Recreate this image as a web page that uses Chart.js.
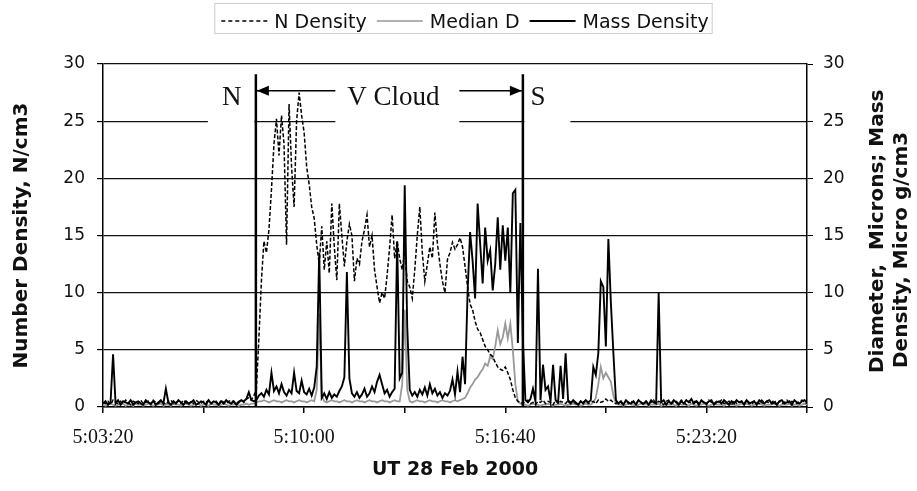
<!DOCTYPE html>
<html>
<head>
<meta charset="utf-8">
<title>Cloud pass, UT 28 Feb 2000</title>
<script src="https://cdn.jsdelivr.net/npm/chart.js@4.4.1/dist/chart.umd.min.js"></script>
<style>
  html, body { margin: 0; padding: 0; background: #fff; }
</style>
</head>
<body>
<canvas id="cloudChart" width="917" height="491"></canvas>
<script>
// one reading every 5 s, clock in seconds after 5:00:00 UT
const sampleStart = 200;
const sampleStep = 5;

const tickTimes = [200, 600, 1000, 1400];
const tickLabels = ["5:03:20", "5:10:00", "5:16:40", "5:23:20"];

// cloud edges (s after 5:00:00) and their labels
const cloudEdges = [504, 1035];
const edgeLabels = ["N", "S"];
const cloudLabel = "V Cloud";

// number density, N/cm3
const nDensity = [
  0.4,0.3,0.5,0.2,0.6,0.4,0.3,0.5,0.3,0.6,
  0.4,0.2,0.5,0.4,0.3,0.6,0.3,0.4,0.5,0.2,
  0.6,0.4,0.3,0.5,0.4,0.2,0.5,0.6,0.3,0.4,
  0.5,0.3,0.6,0.4,0.2,0.5,0.3,0.6,0.4,0.3,
  0.5,0.4,0.6,0.3,0.4,0.5,0.2,0.6,0.4,0.3,
  0.5,0.6,0.4,0.3,0.5,0.6,0.4,0.7,0.8,0.6,
  1.0,
  1.5,6,11,14.5,13.5,15.5,19,23,25.2,22,
  25.5,23,14.2,26.5,21,17.5,25,27.5,25.5,24,
  21,19.5,17.5,16.5,14.2,12.5,15.8,12,14.5,11.7,
  17.8,14,11.1,17.8,15,12.3,14.5,16,15,11,
  13,12.5,14.5,15.5,16.8,14,15,12,10.5,9.1,
  10,9.5,11.5,14,16.8,13,14.5,13,12,13.5,
  11,10.5,9.5,12,15,17.5,13.5,11,12.5,14,
  13,17,14.3,12.5,11,10,12.9,13.5,14.4,13.8,
  14.2,14.8,14,12.3,10.5,9,8.5,7.5,6.8,6.5,
  5.9,5.3,5,4.6,4.4,3.9,3.5,3.3,3.2,3.5,
  3,2.4,1.5,0.8,0.5,
  0.4,0.3,0.5,0.6,0.3,0.4,0.2,0.5,0.4,0.6,
  0.3,0.5,0.4,0.2,0.6,0.3,0.5,0.4,0.3,0.6,
  0.4,0.5,0.3,0.2,0.5,0.4,0.6,0.3,0.4,0.5,
  0.3,0.6,0.4,0.5,0.7,0.5,0.6,0.4,0.3,0.5,
  0.4,0.2,0.6,0.3,0.5,0.4,0.3,0.6,0.4,0.2,
  0.5,0.3,0.4,0.6,0.3,0.5,0.4,0.2,0.5,0.6,
  0.3,0.4,0.5,0.3,0.6,0.4,0.2,0.5,0.3,0.4,
  0.6,0.3,0.5,0.4,0.2,0.6,0.4,0.3,0.5,0.4,
  0.6,0.3,0.4,0.5,0.2,0.6,0.3,0.4,0.5,0.3,
  0.6,0.4,0.2,0.5,0.4,0.3,0.6,0.4,0.5,0.3,
  0.4,0.6,0.2,0.5,0.3,0.4,0.6,0.3,0.5,0.4,
  0.3,0.5,0.6,0.4,0.3
];

// median diameter, microns
const medianD = [
  0.2,0.1,0.2,0.3,0.2,0.1,0.2,0.2,0.3,0.1,
  0.2,0.2,0.1,0.3,0.2,0.2,0.1,0.2,0.3,0.2,
  0.1,0.2,0.2,0.3,0.1,0.2,0.2,0.1,0.3,0.2,
  0.2,0.1,0.2,0.3,0.2,0.1,0.2,0.2,0.3,0.1,
  0.2,0.2,0.1,0.3,0.2,0.2,0.1,0.2,0.3,0.2,
  0.1,0.2,0.2,0.3,0.1,0.2,0.2,0.3,0.2,0.3,
  0.3,
  0.4,0.5,0.5,0.6,0.5,0.4,0.5,0.6,0.5,0.5,
  0.4,0.5,0.6,0.5,0.5,0.4,0.5,0.6,0.5,0.5,
  0.4,0.5,0.6,0.5,1.5,8.2,1.0,0.5,0.4,0.5,
  0.6,0.5,0.5,0.4,0.5,0.6,0.5,0.5,0.4,0.5,
  0.6,0.5,0.5,0.4,0.5,0.6,0.5,0.5,0.4,0.5,
  0.6,0.5,0.5,0.4,0.5,0.6,0.5,0.5,2.0,8.5,
  1.5,0.5,0.4,0.5,0.6,0.5,0.5,0.4,0.5,0.6,
  0.5,0.5,0.4,0.5,0.6,0.5,0.5,0.4,0.5,0.6,
  0.5,0.6,0.7,
  0.8,1.2,1.7,2.0,2.4,2.6,3.0,3.3,3.8,3.6,
  4.4,4.2,5.3,6.7,5.5,6.1,7.3,6.0,7.3,5.0,
  2.0,0.5,
  0.3,0.2,0.2,0.1,0.2,0.3,0.2,0.2,0.1,0.2,
  0.2,0.3,0.2,0.1,0.2,0.2,0.3,0.2,0.1,0.2,
  0.2,0.3,0.2,0.2,0.1,0.2,0.3,0.2,0.2,0.4,
  0.8,2.0,3.5,2.5,3.0,2.6,2.2,1.0,0.3,0.2,
  0.2,0.1,0.2,0.3,0.2,0.2,0.1,0.2,0.3,0.2,
  0.3,0.1,0.2,0.2,0.2,0.3,0.1,0.2,0.2,0.2,
  0.2,0.2,0.1,0.3,0.2,0.2,0.2,0.1,0.3,0.2,
  0.1,0.2,0.2,0.3,0.2,0.1,0.2,0.3,0.2,0.2,
  0.2,0.1,0.3,0.2,0.2,0.2,0.1,0.2,0.3,0.2,
  0.3,0.2,0.1,0.2,0.2,0.3,0.2,0.1,0.2,0.2,
  0.2,0.3,0.2,0.1,0.2,0.2,0.2,0.3,0.1,0.2,
  0.2,0.1,0.2,0.3,0.2
];

// mass density, micro g/cm3
const massDensity = [
  0.3,0.5,0.2,0.4,4.6,0.3,0.6,0.2,0.5,0.4,
  0.3,0.6,0.2,0.4,0.5,0.3,0.2,0.6,0.4,0.3,
  0.5,0.2,0.4,0.6,0.3,1.6,0.4,0.2,0.5,0.3,
  0.6,0.4,0.2,0.5,0.3,0.4,0.6,0.2,0.3,0.5,
  0.4,0.2,0.6,0.3,0.5,0.4,0.2,0.5,0.3,0.6,
  0.4,0.3,0.5,0.2,0.4,0.6,0.5,0.7,1.3,0.6,
  0.5,
  0.6,1.0,1.2,0.9,1.5,1.1,3.0,1.4,1.8,1.2,
  2.0,1.3,1.0,1.5,1.2,3.0,1.4,1.2,2.3,1.3,
  1.1,1.6,1.0,1.7,3.5,13.5,0.8,1.2,0.7,1.3,
  0.8,1.1,0.9,1.4,1.8,2.6,11.8,2.5,1.2,0.9,
  1.3,0.8,1.1,1.6,0.9,1.2,1.8,1.3,2.2,2.8,
  2.0,1.2,1.5,0.9,1.3,1.6,14.5,2.5,3.0,19.4,
  7.0,1.5,1.0,1.3,0.9,1.5,1.1,1.7,1.0,2.0,
  1.2,1.6,1.0,1.3,0.8,1.2,1.0,1.4,2.4,1.1,
  3.1,1.3,4.4,2.0,10,15.3,12.8,9.5,17.8,14.3,
  10.8,15.7,12.8,13.7,10.2,12.5,16.6,12,15.9,12.8,
  15.7,10,18.7,19,5.6,16.1,5.9,
  0.6,0.4,0.7,1.6,0.5,12.1,0.6,3.7,1.5,1.8,
  0.5,3.7,0.6,0.4,3.6,0.7,4.7,0.5,0.3,0.6,
  0.4,0.2,0.5,0.3,0.6,0.4,0.6,3.5,2.8,4.7,
  11.0,10.5,5.3,14.7,9.1,4.7,0.6,0.3,0.5,0.2,
  0.6,0.4,0.3,0.5,0.2,0.6,0.4,0.3,0.5,0.2,
  0.6,0.4,0.3,10.0,0.4,0.6,0.2,0.5,0.3,0.6,
  0.4,0.2,0.5,0.3,0.6,0.4,0.7,0.3,0.5,0.2,
  0.6,0.4,0.3,0.5,0.6,0.2,0.4,0.5,0.3,0.6,
  0.4,0.2,0.5,0.3,0.6,0.4,0.5,0.2,0.6,0.3,
  0.4,0.5,0.2,0.6,0.4,0.3,0.5,0.6,0.3,0.4,
  0.2,0.5,0.6,0.3,0.4,0.5,0.2,0.6,0.4,0.3,
  0.5,0.6,0.4
];

const rightTitle = ["Diameter,  Microns; Mass", "Density, Micro g/cm3"];

function toPoints(values) {
  return values.map((v, i) => ({ x: sampleStart + i * sampleStep, y: v }));
}

const legendItems = [
  { label: "N Density", color: "#000", dash: [4, 3], width: 1.5 },
  { label: "Median D", color: "#999", dash: [], width: 1.5 },
  { label: "Mass Density", color: "#000", dash: [], width: 2 },
];

// legend with a thin frame, centred over the plot
const framedLegend = {
  id: "framedLegend",
  afterDraw(chart) {
    const ctx = chart.ctx;
    ctx.save();
    ctx.font = '19px "DejaVu Sans"';
    const lineLen = 46, gap = 7, itemGap = 10;
    const widths = legendItems.map(it => ctx.measureText(it.label).width);
    const total = widths.reduce((a, w) => a + lineLen + gap + w, 0) + itemGap * (legendItems.length - 1);
    let x = 465 - total / 2;
    ctx.strokeStyle = "#ccc";
    ctx.lineWidth = 1;
    ctx.strokeRect(x - 6.5, 3.5, total + 10, 30);
    legendItems.forEach((it, k) => {
      ctx.beginPath();
      ctx.setLineDash(it.dash);
      ctx.strokeStyle = it.color;
      ctx.lineWidth = it.width;
      ctx.moveTo(x, 21);
      ctx.lineTo(x + lineLen, 21);
      ctx.stroke();
      ctx.setLineDash([]);
      ctx.fillStyle = "#111";
      ctx.textBaseline = "alphabetic";
      ctx.fillText(it.label, x + lineLen + gap, 28);
      x += lineLen + gap + widths[k] + itemGap;
    });
    ctx.restore();
  }
};

// edge markers, arrow and labels for the cloud crossing
const cloudMarks = {
  id: "cloudMarks",
  afterDatasetsDraw(chart) {
    const { ctx, scales: { x, y } } = chart;
    const xN = x.getPixelForValue(cloudEdges[0]);
    const xS = x.getPixelForValue(cloudEdges[1]);
    const yTop = y.getPixelForValue(29.1);
    const yBase = y.getPixelForValue(0);
    const yArrow = y.getPixelForValue(27.65);
    const yText = y.getPixelForValue(26.4);
    const boxTop = y.getPixelForValue(28.9);
    const boxBottom = y.getPixelForValue(24.7);
    const xMid = (xN + xS) / 2 + 4;

    ctx.save();
    ctx.strokeStyle = "#000";
    ctx.lineWidth = 1.5;
    ctx.beginPath();
    ctx.moveTo(xN, yArrow);
    ctx.lineTo(xS, yArrow);
    ctx.stroke();

    // label backgrounds hide the grid line and arrow shaft
    ctx.fillStyle = "#fff";
    ctx.fillRect(xN - 48, boxTop, 46.5, boxBottom - boxTop);
    ctx.fillRect(xMid - 58, boxTop, 124, boxBottom - boxTop);
    ctx.fillRect(xS + 1.5, boxTop, 46, boxBottom - boxTop);

    ctx.lineWidth = 2.5;
    [xN, xS].forEach(px => {
      ctx.beginPath();
      ctx.moveTo(px, yTop);
      ctx.lineTo(px, yBase);
      ctx.stroke();
    });

    ctx.fillStyle = "#000";
    ctx.beginPath();
    ctx.moveTo(xN + 1, yArrow);
    ctx.lineTo(xN + 13, yArrow - 5);
    ctx.lineTo(xN + 13, yArrow + 5);
    ctx.closePath();
    ctx.fill();
    ctx.beginPath();
    ctx.moveTo(xS - 1, yArrow);
    ctx.lineTo(xS - 13, yArrow - 5);
    ctx.lineTo(xS - 13, yArrow + 5);
    ctx.closePath();
    ctx.fill();

    ctx.font = '27px "Liberation Serif"';
    ctx.textAlign = "center";
    ctx.textBaseline = "alphabetic";
    ctx.fillStyle = "#111";
    ctx.fillText(edgeLabels[0], xN - 24, yText);
    ctx.fillText(cloudLabel, xMid, yText);
    ctx.fillText(edgeLabels[1], xS + 15, yText);
    ctx.restore();
  }
};

// right axis title reads bottom to top like the left one
const rightAxisTitle = {
  id: "rightAxisTitle",
  afterDraw(chart) {
    const ctx = chart.ctx;
    const area = chart.chartArea;
    ctx.save();
    ctx.font = 'bold 20px "DejaVu Sans"';
    ctx.fillStyle = "#111";
    ctx.textAlign = "left";
    ctx.textBaseline = "middle";
    rightTitle.forEach((line, k) => {
      ctx.save();
      ctx.translate(area.right + 71 + k * 24, area.bottom - 34 - k * 5);
      ctx.rotate(-Math.PI / 2);
      ctx.fillText(line, 0, 0);
      ctx.restore();
    });
    ctx.restore();
  }
};

const tickFont = { family: "DejaVu Sans", size: 17 };
const titleFont = { family: "DejaVu Sans", size: 20, weight: "bold" };

new Chart(document.getElementById("cloudChart"), {
  type: "line",
  data: {
    datasets: [
      {
        label: "Mass Density",
        data: toPoints(massDensity),
        borderColor: "#000",
        borderWidth: 1.9,
        yAxisID: "y2",
        order: 0,
      },
      {
        label: "N Density",
        data: toPoints(nDensity),
        borderColor: "#000",
        borderWidth: 1.5,
        borderDash: [4, 2],
        yAxisID: "y",
        order: 1,
      },
      {
        label: "Median D",
        data: toPoints(medianD),
        borderColor: "#999",
        borderWidth: 1.8,
        yAxisID: "y2",
        order: 2,
      },
    ],
  },
  options: {
    responsive: false,
    animation: false,
    elements: { point: { radius: 0 }, line: { tension: 0 } },
    layout: { padding: { top: 64, left: 0, right: 0, bottom: 0 } },
    plugins: {
      legend: { display: false },
      tooltip: { enabled: false },
    },
    scales: {
      x: {
        type: "linear",
        min: 200,
        max: 1600,
        afterFit: s => { s.height = 84; },
        grid: { drawOnChartArea: false, tickLength: 6, color: "#000", lineWidth: 1.5 },
        border: { color: "#000", width: 1.5 },
        ticks: {
          stepSize: 200,
          autoSkip: false,
          maxRotation: 0,
          padding: 13,
          color: "#111",
          font: { family: "Liberation Serif", size: 20 },
          callback: v => {
            const k = tickTimes.indexOf(v);
            return k < 0 ? "" : tickLabels[k];
          },
        },
        title: {
          display: true,
          text: "UT 28 Feb 2000",
          color: "#111",
          font: { family: "DejaVu Sans", size: 19, weight: "bold" },
          padding: { top: 0, bottom: 10 },
        },
      },
      y: {
        position: "left",
        min: 0,
        max: 30,
        afterFit: s => { s.width = 103; },
        grid: { color: "#111", lineWidth: 1.2, tickLength: 6, tickColor: "#000" },
        border: { color: "#000", width: 1.5 },
        ticks: { stepSize: 5, padding: 12, color: "#111", font: tickFont },
        title: {
          display: true,
          text: "Number Density, N/cm3",
          color: "#111",
          font: titleFont,
          padding: { top: 10, bottom: 0 },
        },
      },
      y2: {
        position: "right",
        min: 0,
        max: 30,
        afterFit: s => { s.width = 110; },
        grid: { drawOnChartArea: false, tickLength: 6, color: "#000" },
        border: { color: "#000", width: 1.5 },
        ticks: { stepSize: 5, padding: 10, color: "#111", font: tickFont },
      },
    },
  },
  plugins: [cloudMarks, framedLegend, rightAxisTitle],
});
</script>
</body>
</html>
